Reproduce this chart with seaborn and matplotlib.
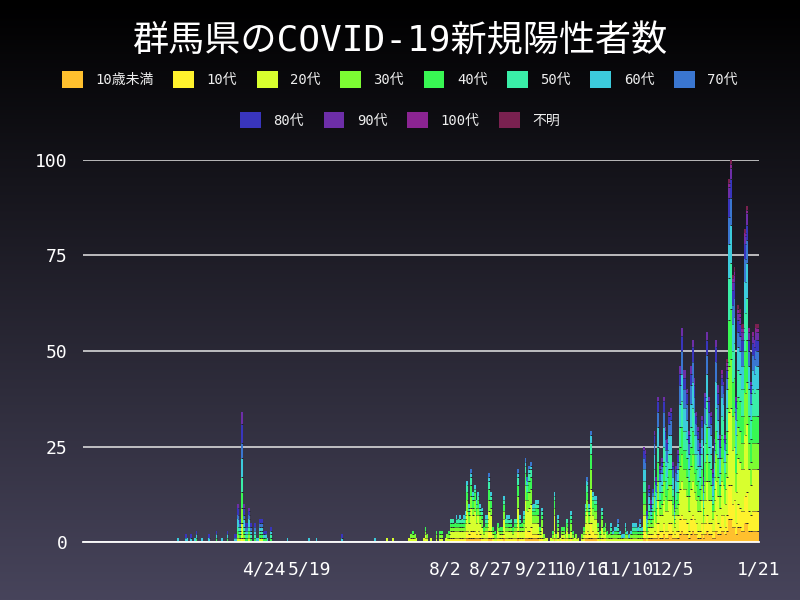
import numpy as np
import pandas as pd
import seaborn as sns
import matplotlib
matplotlib.use("Agg")
import matplotlib.pyplot as plt
from matplotlib.patches import Patch

#----------------------------DATA------------------------
# Daily new cases in Gunma, one list per month (2020-01-16 .. 2021-01-21)

ages = ['10歳未満', '10代', '20代', '30代', '40代', '50代',
        '60代', '70代', '80代', '90代', '100代', '不明']
colors = ['#ffc02e', '#fff22d', '#d8ff2e', '#7cfc33', '#38f753', '#3aeea8',
          '#3ccbdc', '#3a76d0', '#3935bd', '#6d2ea8', '#8b2492', '#7a2150']

cases_2020_01 = [0, 0, 0, 0, 0, 0, 0, 0, 0, 0, 0, 0, 0, 0, 0, 0]  # from 1/16
cases_2020_02 = [0, 0, 0, 0, 0, 0, 0, 0, 0, 0, 0, 0, 0, 0, 0, 0, 0, 0, 0, 0,
                 0, 0, 0, 0, 0, 0, 0, 0, 0]
cases_2020_03 = [0, 0, 0, 0, 0, 0, 0, 1, 0, 0, 0, 2, 1, 0, 2, 0, 1, 3, 0, 0,
                 1, 0, 0, 0, 2, 0, 0, 0, 3, 0, 0]
cases_2020_04 = [1, 0, 0, 3, 0, 0, 0, 2, 2, 10, 6, 34, 10, 5, 5, 9, 5, 0, 5, 1,
                 1, 6, 6, 3, 3, 1, 0, 4, 0, 0]
cases_2020_05 = [0, 0, 0, 0, 0, 0, 1, 0, 0, 0, 0, 0, 0, 0, 0, 0, 0, 0, 1, 0,
                 0, 0, 1, 0, 0, 0, 0, 0, 0, 0, 0]
cases_2020_06 = [0, 0, 0, 0, 0, 2, 0, 0, 0, 0, 0, 0, 0, 0, 0, 0, 0, 0, 0, 0,
                 0, 0, 0, 1, 0, 0, 0, 0, 0, 0]
cases_2020_07 = [1, 0, 0, 1, 0, 0, 0, 0, 0, 0, 0, 0, 1, 2, 3, 2, 1, 0, 0, 0,
                 1, 4, 2, 0, 1, 0, 0, 3, 0, 3, 3]
cases_2020_08 = [0, 1, 2, 3, 6, 6, 5, 7, 6, 7, 6, 7, 8, 16, 10, 19, 13, 15, 11, 13,
                 10, 9, 4, 7, 7, 18, 13, 4, 3, 2, 5]
cases_2020_09 = [4, 4, 12, 6, 7, 7, 6, 4, 6, 6, 19, 7, 5, 8, 22, 17, 20, 21, 10, 10,
                 11, 11, 4, 9, 2, 1, 1, 0, 1, 3]
cases_2020_10 = [13, 2, 7, 1, 4, 4, 2, 6, 2, 8, 3, 1, 2, 1, 0, 2, 4, 10, 17, 10,
                 29, 13, 12, 12, 5, 3, 9, 4, 5, 3, 2]
cases_2020_11 = [5, 3, 4, 4, 6, 3, 2, 2, 5, 3, 2, 3, 5, 5, 5, 4, 6, 4, 25, 24,
                 8, 15, 11, 14, 29, 17, 38, 20, 22, 38]
cases_2020_12 = [30, 27, 34, 35, 21, 10, 20, 24, 46, 56, 45, 45, 40, 29, 46, 53, 43, 34, 30, 26,
                 33, 17, 39, 55, 38, 34, 19, 27, 53, 41, 28]
cases_2021_01 = [45, 42, 28, 48, 95, 100, 70, 72, 38, 62, 61, 57, 57, 82, 88, 56, 42, 55, 53, 57,
                 57]  # to 1/21

# rough age make-up per period, read from the colours of the stacks
share_spring = [0.01, 0.03, 0.10, 0.10, 0.12, 0.12, 0.15, 0.12, 0.15, 0.10, 0.0, 0.0]
share_summer = [0.05, 0.12, 0.30, 0.18, 0.14, 0.10, 0.06, 0.03, 0.015, 0.005, 0.0, 0.0]
share_autumn = [0.05, 0.08, 0.17, 0.12, 0.12, 0.12, 0.13, 0.10, 0.07, 0.04, 0.0, 0.0]
share_winter = [0.06, 0.09, 0.20, 0.13, 0.13, 0.12, 0.10, 0.07, 0.05, 0.03, 0.01, 0.01]

tick_days = ['2020-04-24', '2020-05-19', '2020-08-02', '2020-08-27', '2020-09-21',
             '2020-10-16', '2020-11-10', '2020-12-05', '2021-01-21']

title = '群馬県のCOVID-19新規陽性者数'

#----------------------------PREP------------------------

cases = (cases_2020_01 + cases_2020_02 + cases_2020_03 + cases_2020_04 + cases_2020_05
         + cases_2020_06 + cases_2020_07 + cases_2020_08 + cases_2020_09 + cases_2020_10
         + cases_2020_11 + cases_2020_12 + cases_2021_01)
dates = pd.date_range('2020-01-16', '2021-01-21')
assert len(dates) == len(cases)


def pick_share(d):
    if d.year == 2021:
        return share_winter
    if d.month >= 11:
        return share_autumn
    if d.month >= 7:
        return share_summer
    return share_spring


def split_cases(total, share):
    # largest remainder, so every day adds up to its total
    raw = np.array(share) / sum(share) * total
    n = np.floor(raw).astype(int)
    order = np.argsort(-(raw - n), kind='stable')
    n[order[:total - n.sum()]] += 1
    return n


rows = []
for i, (d, total) in enumerate(zip(dates, cases)):
    if total == 0:
        continue
    for age, n in zip(ages, split_cases(total, pick_share(d))):
        if n > 0:
            rows.append({'day': i, 'age': age, 'count': n})
df = pd.DataFrame(rows)

#----------------------------PLOT------------------------

sns.set_style('dark')
plt.rcParams['font.family'] = ['DejaVu Sans Mono', 'Noto Sans CJK JP']

fig = plt.figure(figsize=(8, 6), dpi=100)

# dark vertical gradient behind everything
bg = fig.add_axes([0, 0, 1, 1], zorder=-10)
top_c = np.array([0, 0, 0]) / 255
bot_c = np.array([71, 68, 91]) / 255
t = np.linspace(0, 1, 256)[:, None]
grad = (top_c + (bot_c - top_c) * t)[:, None, :].repeat(2, axis=1)
bg.imshow(grad, aspect='auto', extent=[0, 1, 0, 1])
bg.axis('off')

ax = fig.add_axes([83 / 800, 58 / 600, 676 / 800, 382 / 600])
ax.set_facecolor('none')

sns.histplot(data=df, x='day', weights='count', hue='age',
             hue_order=ages[::-1], palette=dict(zip(ages, colors)),
             multiple='stack', discrete=True, shrink=1.0, alpha=1,
             linewidth=0, legend=False, ax=ax)

# drop empty patches, add the thin dark separators between segments
lefts, rights, ys = [], [], []
for p in list(ax.patches):
    if p.get_height() <= 0:
        p.remove()
    elif p.get_y() > 0:
        lefts.append(p.get_x() + 0.1)
        rights.append(p.get_x() + p.get_width() - 0.1)
        ys.append(p.get_y())
ax.hlines(ys, lefts, rights, colors='#24232f', linewidth=0.7, zorder=3)

ax.set_xlim(-0.5, len(dates) - 0.5)
ax.set_ylim(0, 100)
ax.set_yticks([0, 25, 50, 75, 100])
tick_pos = [dates.get_loc(pd.Timestamp(s)) for s in tick_days]
ax.set_xticks(tick_pos)
ax.set_xticklabels([f'{pd.Timestamp(s).month}/{pd.Timestamp(s).day}' for s in tick_days])
ax.set_xlabel('')
ax.set_ylabel('')

ax.yaxis.grid(True, color='#e6e6e6', linewidth=1.1)
ax.xaxis.grid(False)
ax.set_axisbelow(True)
for side in ['top', 'right', 'left']:
    ax.spines[side].set_visible(False)
ax.spines['bottom'].set_color('white')
ax.spines['bottom'].set_linewidth(1.3)
ax.tick_params(axis='y', colors='white', labelsize=13, length=0, pad=11)
ax.tick_params(axis='x', colors='white', labelsize=13, length=0, pad=13)

fig.text(0.5, 0.932, title, ha='center', va='center', fontsize=26, color='white')

handles = [Patch(facecolor=c, edgecolor='none') for c in colors]
leg_kw = dict(loc='center', frameon=False, fontsize=10, labelcolor='#eeeeee',
              handlelength=1.5, handleheight=1.5, handletextpad=0.9, columnspacing=1.4)
fig.legend(handles[:8], ages[:8], bbox_to_anchor=(0.5, 0.867), ncol=8, **leg_kw)
fig.legend(handles[8:], ages[8:], bbox_to_anchor=(0.5, 0.8), ncol=4, **leg_kw)

plt.savefig('out.png', dpi=100)
